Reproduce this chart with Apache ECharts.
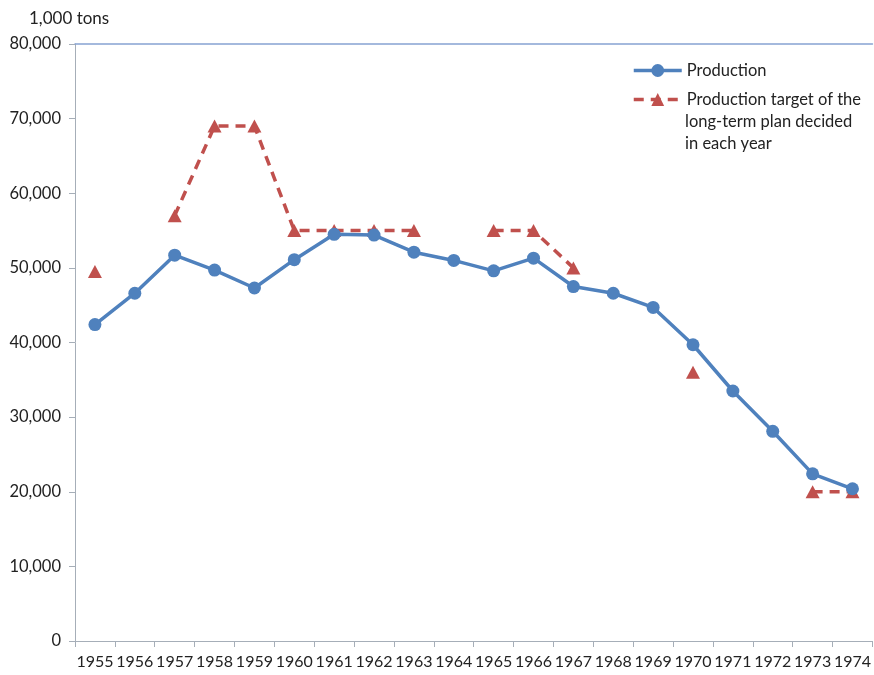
<!DOCTYPE html>
<html>
<head>
<meta charset="utf-8">
<script src="https://cdn.jsdelivr.net/npm/echarts@6/dist/echarts.min.js"></script>
<style>
  html, body { margin: 0; padding: 0; background: #fff; }
  #chart { width: 874px; height: 675px; }
</style>
</head>
<body>
<div id="chart"></div>
<script>
const years = ['1955', '1956', '1957', '1958', '1959', '1960', '1961', '1962', '1963', '1964',
  '1965', '1966', '1967', '1968', '1969', '1970', '1971', '1972', '1973', '1974']
const production = [42400, 46600, 51700, 49700, 47300, 51100, 54500, 54400, 52100, 51000,
  49600, 51300, 47500, 46600, 44700, 39700, 33500, 28100, 22400, 20400]
const target = [49500, null, 57000, 69000, 69000, 55000, 55000, 55000, 55000, null,
  55000, 55000, 50000, null, null, 36000, null, null, 20000, 20000]
const yTicks = [0, 10000, 20000, 30000, 40000, 50000, 60000, 70000, 80000]
const targetLabel = ['Production target of the', 'long-term plan decided', 'in each year']

const blue = '#4F81BD'
const red = '#C0504D'
const axisGrey = '#A6AEB8'
const textCol = '#222'
const font = 'Lato, "Open Sans", sans-serif'

const chart = echarts.init(document.getElementById('chart'))
chart.setOption({
  animation: false,
  textStyle: { fontFamily: font },
  title: {
    text: '1,000 tons', left: 24, top: 5,
    textStyle: { fontFamily: font, fontSize: 17, fontWeight: 'normal', color: textCol }
  },
  legend: {
    orient: 'vertical', left: 632, top: 62, padding: 0, itemGap: 12,
    itemWidth: 48, itemHeight: 16,
    textStyle: { fontFamily: font, fontSize: 16.5, color: textCol },
    data: [
      { name: 'Production', lineStyle: { width: 3.5 } },
      { name: 'target', lineStyle: { width: 3.5 } }
    ],
    formatter: name => name === 'target' ? targetLabel[0] : name
  },
  // remaining lines of the second legend entry
  graphic: targetLabel.slice(1).map((t, i) => ({
    type: 'text', left: 685, top: 113 + i * 22,
    style: { text: t, font: '16.5px ' + font, fill: textCol }
  })),
  grid: { left: 75, right: 0, top: 44, bottom: 34 },
  xAxis: [
    {
      type: 'category', data: years, boundaryGap: true,
      axisLine: { lineStyle: { color: axisGrey, width: 1 } },
      axisTick: { show: true, length: 6, lineStyle: { color: axisGrey } },
      axisLabel: { interval: 0, fontFamily: font, fontSize: 16, color: textCol, margin: 13 }
    },
    {
      type: 'category', data: years, position: 'top',
      axisLine: { lineStyle: { color: '#86A2D2', width: 1.5 } },
      axisTick: { show: false }, axisLabel: { show: false }
    }
  ],
  yAxis: {
    type: 'value', min: yTicks[0], max: yTicks[yTicks.length - 1], interval: 10000,
    axisLine: { show: true, lineStyle: { color: axisGrey } },
    axisTick: { show: true, length: 6, lineStyle: { color: axisGrey } },
    splitLine: { show: false },
    axisLabel: {
      fontFamily: font, fontSize: 16.5, color: textCol, margin: 14,
      formatter: v => v.toLocaleString('en-US')
    }
  },
  series: [
    {
      name: 'target', type: 'line', data: target, connectNulls: false,
      symbol: 'triangle', symbolSize: [14, 13],
      lineStyle: { color: red, width: 3.5, type: [10, 7] },
      itemStyle: { color: red },
      z: 2
    },
    {
      name: 'Production', type: 'line', data: production,
      symbol: 'circle', symbolSize: 13,
      lineStyle: { color: blue, width: 3.5 },
      itemStyle: { color: blue },
      z: 3
    }
  ]
})
</script>
</body>
</html>
